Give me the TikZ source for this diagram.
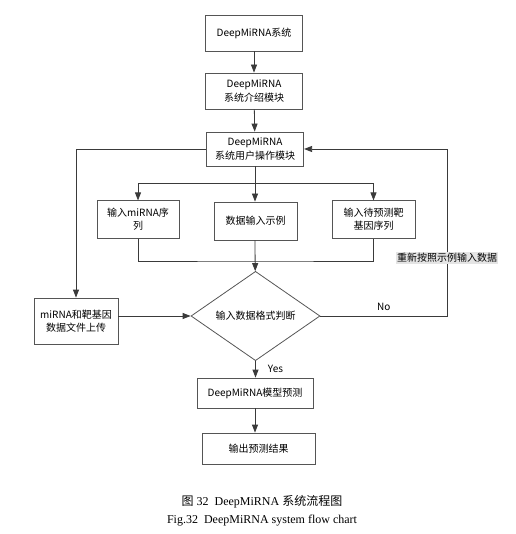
\documentclass[tikz,border=0pt]{standalone}
\usepackage{fontspec}
\setmainfont{Liberation Serif}
\newfontfamily\cjk{Noto Sans CJK SC}
\usetikzlibrary{shapes.geometric,arrows.meta}

\begin{document}
\begin{tikzpicture}[x=0.75pt,y=-0.75pt,
		box/.style={draw=boxgray,line width=0.6pt,align=center,inner sep=0pt,font=\cjk\fontsize{7.5}{10}\selectfont},
		ln/.style={draw=linegray,line width=0.6pt},
		arr/.style={ln,-{Triangle[length=6pt,width=4.5pt]}},
		lab/.style={font=\cjk\fontsize{7.5}{9}\selectfont,inner sep=1pt}]
					\definecolor{boxgray}{HTML}{555555}
					\definecolor{linegray}{HTML}{3A3A3A}
					\definecolor{labgray}{HTML}{E4E4E4}
					\useasboundingbox (0,0) rectangle (516,534);

					\node[box,minimum width=73pt,minimum height=27pt] (sys) at (254,33) {DeepMiRNA系统};
					\node[box,minimum width=73pt,minimum height=27pt] (intro) at (254,91) {DeepMiRNA\\系统介绍模块};
					\node[box,minimum width=73pt,minimum height=25.5pt] (user) at (255,149) {DeepMiRNA\\系统用户操作模块};
					\node[box,minimum width=61.5pt,minimum height=28pt] (inmi) at (138,219.5) {输入miRNA序\\列};
					\node[box,minimum width=62.25pt,minimum height=28.5pt] (demo) at (255.5,221) {数据输入示例};
					\node[box,minimum width=62.25pt,minimum height=28pt] (intarget) at (373.5,219.5) {输入待预测靶\\基因序列};
					\node[box,minimum width=63pt,minimum height=34.5pt] (upload) at (76,321) {miRNA和靶基因\\数据文件上传};
					\node[box,diamond,minimum width=96.75pt,minimum height=48pt] (judge) at (255.5,316) {输入数据格式判断};
					\node[box,minimum width=87pt,minimum height=22.5pt] (predict) at (255,393) {DeepMiRNA模型预测};
					\node[box,minimum width=84.75pt,minimum height=23.25pt] (result) at (258.5,448.5) {输出预测结果};

					\coordinate (split) at (255,183);
					\coordinate (merge) at (255,261);
					\coordinate (loop) at (447,316);

					\draw[arr] (sys) -- (intro);
					\draw[arr] (intro) -- (user);
					\draw[arr] (user) -- (user |- demo.north);
					\draw[arr] (split) -| (inmi.north);
					\draw[arr] (split) -| (intarget.north);
					\draw[ln] (inmi.south) |- (merge) -| (intarget.south);
					\draw[arr] (demo.south -| merge) -- (judge);
					\draw[arr] (user.west) -| (upload.north);
					\draw[arr] (upload.east |- judge.west) -- (judge.west);
					\draw[arr] (judge.east) -- node[lab,above=3pt]{No} (loop) -- node[lab,fill=labgray,pos=0.35]{重新按照示例输入数据} (loop |- user.east) -- (user.east);
					\draw[arr] (judge.south) -- node[lab,right=8pt,pos=0.45]{Yes} (judge.south |- predict.north);
					\draw[arr] (predict.south) -- (predict.south |- result.north);

					\node[font=\fontsize{9}{11}\selectfont] (cap) at (262,502) {{\cjk 图} 32\ \ DeepMiRNA {\cjk 系统流程图}};
					\node[font=\fontsize{9}{11}\selectfont] (capen) at (262,521) {Fig.32\ \ DeepMiRNA system flow chart};
				\end{tikzpicture}
\end{document}
